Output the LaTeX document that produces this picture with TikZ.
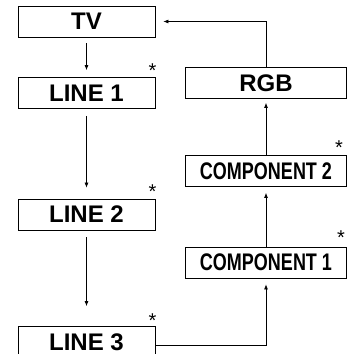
\documentclass[tikz,border=0pt]{standalone}
\usepackage{fontspec}
\setmainfont{Liberation Sans}
\newfontfamily\narrowfont[FakeStretch=0.75]{Liberation Sans}
\usetikzlibrary{arrows.meta}
\tikzset{
  box/.style={draw,line width=.8pt,minimum width=137pt,minimum height=31pt,inner sep=0pt,
    font=\fontsize{24}{24}\selectfont\bfseries},
  rbox/.style={box,minimum width=161pt},
  narrow/.style={font=\fontsize{24}{24}\selectfont\narrowfont\bfseries},
  link/.style={line width=.7pt,-{Latex[length=5pt,width=4pt]}},
  note/.style={font=\fontsize{20}{20}\selectfont,inner sep=0pt,anchor=north}
}
\begin{document}
\begin{tikzpicture}[x=1pt,y=-1pt]
    \useasboundingbox (0,0) rectangle (353,354);
    % left column
    \node[box] (tv) at (86.5,21.5) {TV};
    \node[box] (line1) at (86.5,93) {LINE 1};
    \node[box] (line2) at (86.5,214.5) {LINE 2};
    \node[box] (line3) at (86.5,342) {LINE 3};
    % right column
    \node[rbox] (rgb) at (266,83) {RGB};
    \node[rbox,narrow] (comp2) at (266,171) {COMPONENT 2};
    \node[rbox,narrow] (comp1) at (266,262.5) {COMPONENT 1};
    % stars
    \node[note] (s1) at ([xshift=-3pt,yshift=14pt]line1.north east) {*};
    \node[note] (s2) at ([xshift=-3pt,yshift=14pt]line2.north east) {*};
    \node[note] (s3) at ([xshift=-3pt,yshift=12.5pt]line3.north east) {*};
    \node[note] (s4) at ([xshift=-8pt,yshift=15pt]comp2.north east) {*};
    \node[note] (s5) at ([xshift=-6pt,yshift=16pt]comp1.north east) {*};
    \draw[link,shorten <=6pt,shorten >=7pt] (tv) -- (line1);
    \draw[link,shorten <=7pt,shorten >=11pt] (line1) -- (line2);
    \draw[link,shorten <=7pt,shorten >=20pt] (line2) -- (line3);
    \draw[link,shorten >=6pt] ([yshift=-3pt]line3.east) -| (comp1);
    \draw[link,shorten >=6pt] (comp1) -- (comp2);
    \draw[link,shorten >=4pt] (comp2) -- (rgb);
    \draw[link,shorten >=8pt] (rgb.north) |- (tv.east);
\end{tikzpicture}
\end{document}
